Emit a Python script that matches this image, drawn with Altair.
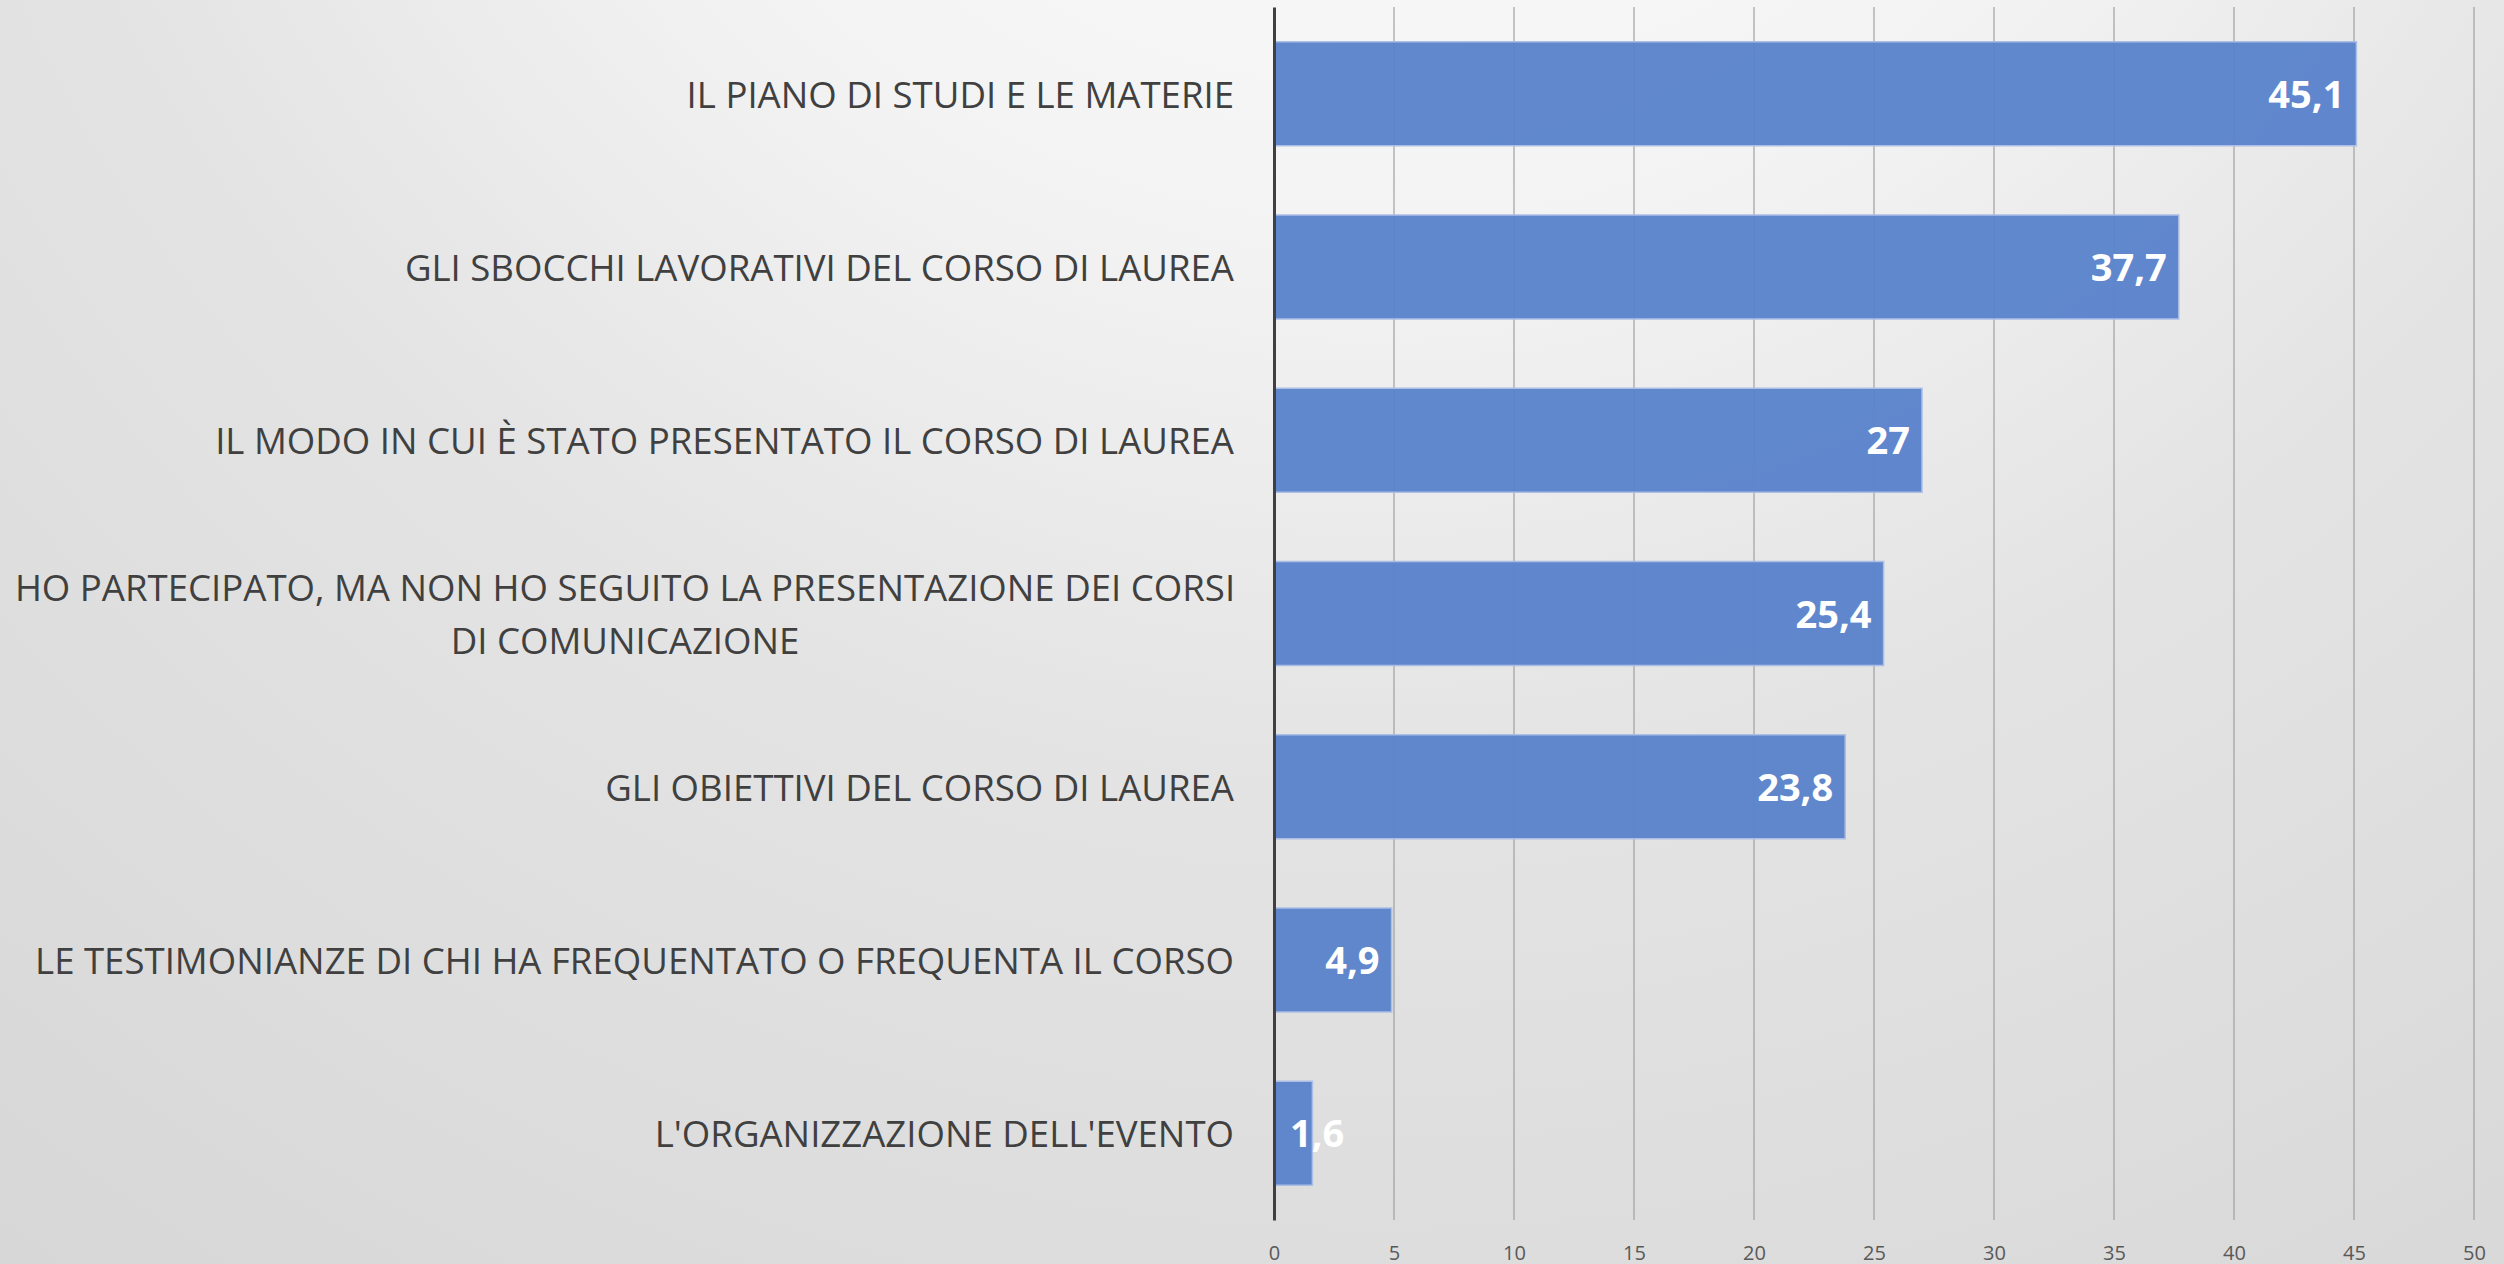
import altair as alt
import pandas as pd

categories = [
    "IL PIANO DI STUDI E LE MATERIE",
    "GLI SBOCCHI LAVORATIVI DEL CORSO DI LAUREA",
    "IL MODO IN CUI È STATO PRESENTATO IL CORSO DI LAUREA",
    "HO PARTECIPATO, MA NON HO SEGUITO LA PRESENTAZIONE DEI CORSI\nDI COMUNICAZIONE",
    "GLI OBIETTIVI DEL CORSO DI LAUREA",
    "LE TESTIMONIANZE DI CHI HA FREQUENTATO O FREQUENTA IL CORSO",
    "L'ORGANIZZAZIONE DELL'EVENTO",
]
values = [45.1, 37.7, 27, 25.4, 23.8, 4.9, 1.6]
x_ticks = [0, 5, 10, 15, 20, 25, 30, 35, 40, 45, 50]

W, H = 1200, 1213
PAD = {"left": 1274, "top": 7, "right": 30, "bottom": 44}
CAT_FONT = "Open Sans"
CAT_SIZE = 36.6
LINE_H = 53
TEXT_DY = 3

df = pd.DataFrame({
    "cat": categories,
    "value": values,
    "label": [f"{v:g}".replace(".", ",") for v in values],
    "wrapped": ["\n" in c for c in categories],
})
ticks_df = pd.DataFrame({"tick": x_ticks[1:]})

x_scale = alt.Scale(domain=[0, 50], nice=False)
y_sorted = alt.Y("cat:N", sort=categories)

bg = alt.Chart(pd.DataFrame({"a": [0]})).mark_rect(
    fill={
        "gradient": "radial",
        "x1": 0.55, "y1": 0.0, "r1": 0.0,
        "x2": 0.55, "y2": 0.0, "r2": 1.15,
        "stops": [
            {"offset": 0.0, "color": "#ffffff"},
            {"offset": 0.3, "color": "#f3f3f3"},
            {"offset": 0.48, "color": "#e4e4e4"},
            {"offset": 1.0, "color": "#cfcfcf"},
        ],
    },
    stroke=None,
).encode(
    x=alt.value(-PAD["left"]), x2=alt.value(W + PAD["right"]),
    y=alt.value(-PAD["top"]), y2=alt.value(H + PAD["bottom"]),
)

grid = alt.Chart(ticks_df).mark_rule(color="#999999", strokeWidth=2, opacity=0.55).encode(
    x=alt.X("tick:Q", scale=x_scale,
            axis=alt.Axis(values=x_ticks, grid=False, domain=False, ticks=False,
                          labelFont="Open Sans", labelFontSize=20, labelColor="#595959",
                          labelPadding=23, labelFlush=False, title=None, zindex=1)),
)

bars = alt.Chart(df).mark_bar(color="#5b84cc", stroke="#a9bde6", strokeWidth=1.5,
                              opacity=0.96).encode(
    x=alt.X("value:Q", scale=x_scale),
    y=alt.Y("cat:N", sort=categories,
            scale=alt.Scale(paddingInner=0.4, paddingOuter=0.2),
            axis=alt.Axis(labels=False, ticks=False, grid=False, title=None,
                          domain=True, domainColor="#404040", domainWidth=3,
                          zindex=1)),
)

val_style = dict(baseline="middle", font="Open Sans", fontWeight="bold",
                 fontSize=38, color="white", dy=TEXT_DY)

vals_inside = alt.Chart(df).transform_filter("datum.value >= 3").mark_text(
    align="right", dx=-12, **val_style).encode(
    x=alt.X("value:Q", scale=x_scale),
    y=y_sorted,
    text="label:N",
)

vals_small = alt.Chart(df).transform_filter("datum.value < 3").mark_text(
    align="left", dx=16, **val_style).encode(
    x=alt.datum(0, scale=x_scale),
    y=y_sorted,
    text="label:N",
)

cats_single = alt.Chart(df).transform_filter("!datum.wrapped").mark_text(
    align="right", baseline="middle", font=CAT_FONT, fontSize=CAT_SIZE,
    dy=TEXT_DY, color="#404040").encode(
    x=alt.value(-40),
    y=y_sorted,
    text="cat:N",
)

cats_wrapped = alt.Chart(df).transform_filter("datum.wrapped").mark_text(
    align="center", baseline="middle", font=CAT_FONT, fontSize=CAT_SIZE,
    lineBreak="\n", lineHeight=LINE_H, dy=-LINE_H / 2 + TEXT_DY, color="#404040").encode(
    x=alt.value(-649),
    y=y_sorted,
    text="cat:N",
)

chart = alt.layer(bg, grid, bars, vals_inside, vals_small, cats_single, cats_wrapped).properties(
    width=W, height=H,
    padding=PAD,
    autosize=alt.AutoSizeParams(type="none"),
    background="#e0e0e0",
).configure_view(stroke=None)

chart.save("out.html", embed_options={"renderer": "svg", "actions": False})
